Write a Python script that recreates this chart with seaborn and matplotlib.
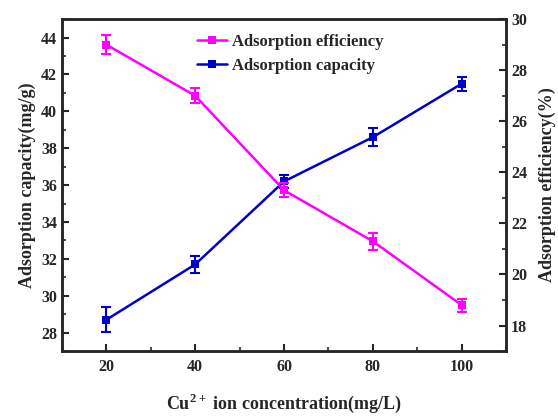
import numpy as np
import pandas as pd
import seaborn as sns
import matplotlib.pyplot as plt
from matplotlib.ticker import MultipleLocator

# data
conc = [20, 40, 60, 80, 100]
capacity = [28.7, 31.7, 36.2, 38.6, 41.5]
capacity_err = [0.68, 0.45, 0.35, 0.5, 0.38]
efficiency = [29.0, 27.0, 23.3, 21.3, 18.8]
efficiency_err = [0.36, 0.3, 0.27, 0.34, 0.25]

df = pd.DataFrame({"conc": conc, "capacity": capacity, "efficiency": efficiency})

sns.set_style("ticks")
plt.rcParams['font.family'] = ['Liberation Serif', 'DejaVu Serif']
plt.rcParams['font.weight'] = 'bold'
plt.rcParams['mathtext.fontset'] = 'custom'
plt.rcParams['mathtext.rm'] = 'Liberation Serif:bold'
plt.rcParams['mathtext.bf'] = 'Liberation Serif:bold'

fig, ax = plt.subplots(figsize=(5.58, 4.16), dpi=100)
fig.subplots_adjust(left=0.111, right=0.907, top=0.954, bottom=0.156)
ax2 = ax.twinx()

blue = "#0000CC"
mag = "#FF00FF"

sns.lineplot(data=df, x="conc", y="capacity", ax=ax, color=blue, marker="s",
             markersize=6, markeredgewidth=0, linewidth=1.8, label="Adsorption capacity", legend=False)
ax.errorbar(conc, capacity, yerr=capacity_err, fmt="none", ecolor=blue, elinewidth=1.5, capsize=3.5, capthick=1.5)

sns.lineplot(data=df, x="conc", y="efficiency", ax=ax2, color=mag, marker="s",
             markersize=6, markeredgewidth=0, linewidth=1.8, label="Adsorption efficiency", legend=False)
ax2.errorbar(conc, efficiency, yerr=efficiency_err, fmt="none", ecolor=mag, elinewidth=1.5, capsize=3.5, capthick=1.5)

ax.set_xlim(10, 110)
ax.set_ylim(27, 45)
ax2.set_ylim(17, 30)
ax.set_xticks(conc)
ax.xaxis.set_minor_locator(MultipleLocator(10))
ax.set_yticks(np.arange(28, 45, 2))
ax.yaxis.set_minor_locator(MultipleLocator(1))
ax2.set_yticks(np.arange(18, 31, 2))
ax2.yaxis.set_minor_locator(MultipleLocator(1))

for a in (ax, ax2):
    a.tick_params(which="major", direction="in", length=5, width=1.5, labelsize=11.5)
    a.tick_params(which="minor", direction="in", length=3, width=1.2)
    for s in a.spines.values():
        s.set_linewidth(1.8)
        s.set_visible(True)
ax.tick_params(axis="x", pad=6)

ax.set_xlabel(r"Cu$^{\mathbf{2+}}$ ion concentration(mg/L)", fontsize=13, fontweight="bold", labelpad=12)
ax.set_ylabel("Adsorption capacity(mg/g)", fontsize=13, fontweight="bold")
ax2.set_ylabel("Adsorption efficiency(%)", fontsize=13, fontweight="bold", labelpad=8)

h1, l1 = ax.get_legend_handles_labels()
h2, l2 = ax2.get_legend_handles_labels()
ax2.legend(h2 + h1, l2 + l1, loc="upper center", bbox_to_anchor=(0.515, 1.0), frameon=False,
           prop={"size": 12, "weight": "bold"}, handlelength=1.8, handletextpad=0.3,
           labelspacing=0.45, numpoints=1)

plt.savefig("out.png", dpi=100)
